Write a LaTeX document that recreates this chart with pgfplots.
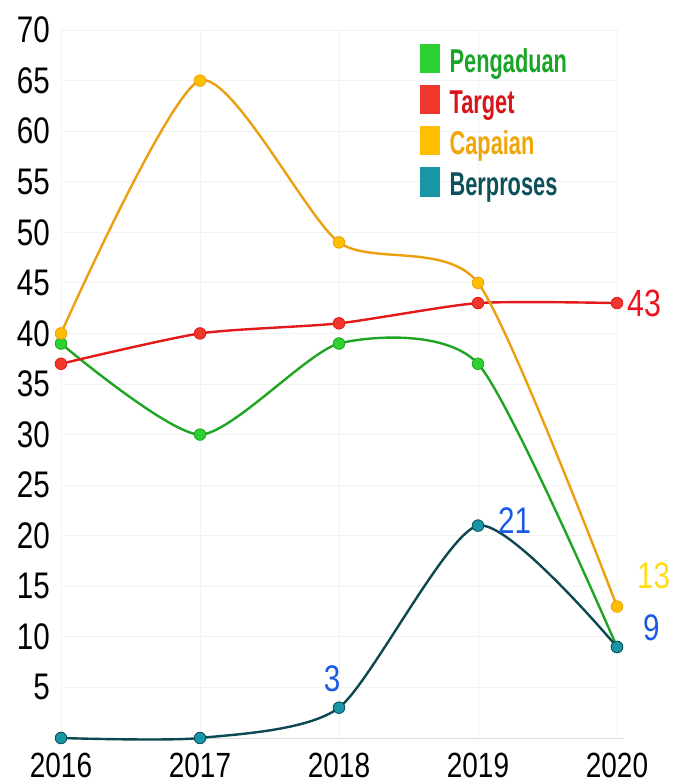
\documentclass[border=0pt]{standalone}
\usepackage{fontspec}
\setmainfont{Liberation Sans}[FakeStretch=0.8]
\newfontfamily\legfont{Liberation Sans}[FakeStretch=0.66]
\usepackage{pgfplots}
\pgfplotsset{compat=1.18}
\definecolor{gline}{RGB}{30,165,35}
\definecolor{gfill}{RGB}{45,210,50}
\definecolor{gtext}{RGB}{25,165,40}
\definecolor{rline}{RGB}{228,25,25}
\definecolor{rfill}{RGB}{240,55,45}
\definecolor{rtext}{RGB}{215,20,25}
\definecolor{oline}{RGB}{235,160,15}
\definecolor{ofill}{RGB}{255,190,0}
\definecolor{otext}{RGB}{240,165,10}
\definecolor{tline}{RGB}{12,72,82}
\definecolor{tfill}{RGB}{25,150,165}
\definecolor{ttext}{RGB}{12,80,90}
\definecolor{lblue}{RGB}{25,90,230}
\definecolor{lyellow}{RGB}{255,222,20}
\definecolor{lred}{RGB}{235,20,30}
\begin{document}
\begin{tikzpicture}
\begin{axis}[
  at={(0,0)}, anchor=south west,
  scale only axis, width=556pt, height=708pt,
  xmin=2016, xmax=2020, ymin=0, ymax=70,
  clip=false,
  axis line style={draw=none},
  major tick length=0pt,
  xtick={2016,2017,2018,2019,2020},
  xticklabels={2016,2017,2018,2019,2020},
  ytick={0,5,10,15,20,25,30,35,40,45,50,55,60,65,70},
  yticklabels={{},5,10,15,20,25,30,35,40,45,50,55,60,65,70},
  /pgf/number format/assume math mode=true,
  yticklabel style={font=\fontsize{37}{37}\selectfont, anchor=east, inner sep=0pt, xshift=-11pt},
  xticklabel style={font=\fontsize{35}{35}\selectfont, anchor=north, inner sep=0pt, yshift=-15pt},
  grid=major,
  major grid style={draw=gray!10, line width=0.8pt},
  legend style={at={(axis cs:2018.583,68.68)}, anchor=north west, draw=none, fill=none,
    inner sep=0pt, row sep=11pt, column sep=10pt, nodes={inner sep=0pt},
    font=\legfont\bfseries\fontsize{33}{33}\selectfont},
  legend cell align=left,
  every axis plot/.append style={smooth, tension=0.4, line width=2.4pt},
]
\addplot[forget plot, draw=gray!35, line width=1pt, smooth=false, mark=none] coordinates {(2016,0) (2020.05,0)};

\addlegendimage{legend image code/.code={\fill[gfill] (0pt,-10.5pt) rectangle (17pt,16.5pt);}}
\addlegendentry{\textcolor{gtext}{Pengaduan}}
\addlegendimage{legend image code/.code={\fill[rfill] (0pt,-10.5pt) rectangle (17pt,16.5pt);}}
\addlegendentry{\textcolor{rtext}{Target}}
\addlegendimage{legend image code/.code={\fill[ofill] (0pt,-10.5pt) rectangle (17pt,16.5pt);}}
\addlegendentry{\textcolor{otext}{Capaian}}
\addlegendimage{legend image code/.code={\fill[tfill] (0pt,-10.5pt) rectangle (17pt,16.5pt);}}
\addlegendentry{\textcolor{ttext}{Berproses}}

\addplot[forget plot, color=gline, mark=*, mark size=5.8pt, mark options={fill=gfill, draw=gline, line width=0.8pt}]
  coordinates {(2016,39) (2017,30) (2018,39) (2019,37) (2020,9)};
\addplot[forget plot, color=rline, mark=*, mark size=5.8pt, mark options={fill=rfill, draw=rline, line width=0.8pt}]
  coordinates {(2016,37) (2017,40) (2018,41) (2019,43) (2020,43)};
\addplot[forget plot, color=oline, mark=*, mark size=5.8pt, mark options={fill=ofill, draw=oline, line width=0.8pt}]
  coordinates {(2016,40) (2017,65) (2018,49) (2019,45) (2020,13)};
\addplot[forget plot, color=tline, mark=*, mark size=5.8pt, mark options={fill=tfill, draw=tline, line width=0.8pt}]
  coordinates {(2016,0) (2017,0) (2018,3) (2019,21) (2020,9)};

\node[anchor=west, inner sep=0pt, xshift=10pt, text=lred, font=\fontsize{38}{38}\selectfont] at (axis cs:2020,43) {43};
\node[anchor=west, inner sep=0pt, xshift=20pt, yshift=31pt, text=lyellow, font=\fontsize{37}{37}\selectfont] at (axis cs:2020,13) {13};
\node[anchor=west, inner sep=0pt, xshift=26pt, yshift=19pt, text=lblue, font=\fontsize{37}{37}\selectfont] at (axis cs:2020,9) {9};
\node[anchor=west, inner sep=0pt, xshift=20pt, yshift=5pt, text=lblue, font=\fontsize{37}{37}\selectfont] at (axis cs:2019,21) {21};
\node[anchor=center, inner sep=0pt, xshift=-7pt, yshift=29pt, text=lblue, font=\fontsize{37}{37}\selectfont] at (axis cs:2018,3) {3};
\end{axis}
\pgfresetboundingbox
\path[use as bounding box] (-61pt,-46pt) rectangle (617pt,738pt);
\end{tikzpicture}
\end{document}
